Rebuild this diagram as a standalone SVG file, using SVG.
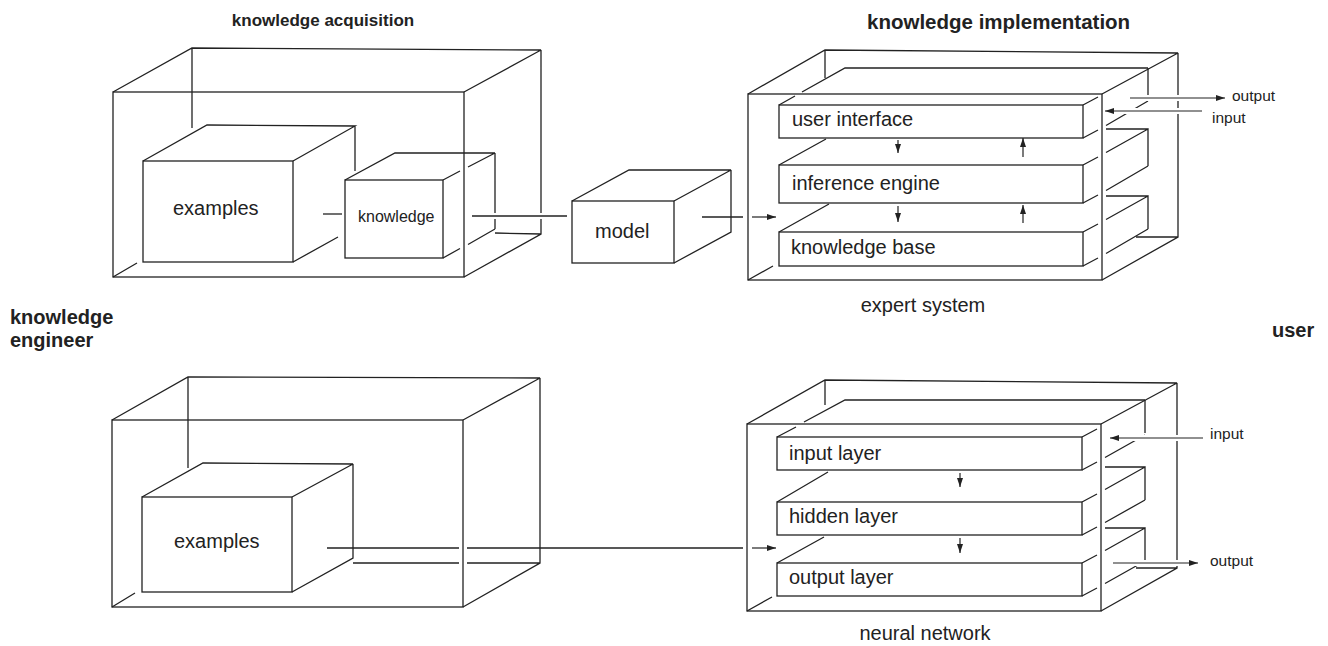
<svg xmlns="http://www.w3.org/2000/svg" width="1328" height="646" viewBox="0 0 1328 646">
<defs>
<style>
.ln{fill:none;stroke:#222;stroke-width:1.3;stroke-linecap:butt}
.fc{fill:none;stroke:#222;stroke-width:1.3}
.halo{fill:none;stroke:#fff;stroke-width:6}
.ar{fill:none;stroke:#222;stroke-width:1.2;marker-end:url(#ah)}
.t{font-family:"Liberation Sans",Arial,sans-serif;fill:#222;font-size:20px}
.b{font-family:"Liberation Sans",Arial,sans-serif;fill:#222;font-weight:bold;font-size:20px}
.s{font-family:"Liberation Sans",Arial,sans-serif;fill:#222;font-size:15.5px}
</style>
<marker id="ah" viewBox="0 0 10 10" refX="10" refY="5" markerWidth="9" markerHeight="6" markerUnits="userSpaceOnUse" orient="auto" preserveAspectRatio="none"><path d="M0,0 L10,5 L0,10 z" fill="#222"/></marker>
</defs>
<rect width="1328" height="646" fill="#fff"/>

<g id="labels">
<text class="b" x="323" y="26" text-anchor="middle" style="font-size:17px">knowledge acquisition</text>
<text class="b" x="867" y="29" style="font-size:20.5px">knowledge implementation</text>
<text class="b" x="10" y="324">knowledge</text>
<text class="b" x="10" y="347">engineer</text>
<text class="b" x="1272" y="337">user</text>
<text class="t" x="923" y="312" text-anchor="middle">expert system</text>
<text class="t" x="925" y="640" text-anchor="middle">neural network</text>
</g>

<g id="acquisition-top">
<rect class="fc" x="113" y="92" width="351" height="185"/>
<path class="ln" d="M113,92L192,48L541,50L464,92M541,50V234L464,277M192,48V128M495,233L541,234M113,277L137,263"/>
</g>

<g id="examples-top">
<rect class="fc" x="143" y="161" width="150" height="101"/>
<path class="ln" d="M143,161L207,125L355,126L293,161M355,126V171M293,262L338,237"/>
<text class="t" x="173" y="215">examples</text>
</g>

<g id="knowledge">
<rect class="fc" x="345" y="180" width="98" height="78"/>
<path class="ln" d="M345,180L395,153H495M443,180L460,171M468,167L495,153M495,153V229M443,258L460,248.5M468,244.5L495,229"/>
<text class="t" x="358" y="222" style="font-size:16px">knowledge</text>
</g>

<g id="model">
<rect class="fc" x="572" y="201" width="102" height="62"/>
<path class="ln" d="M572,201L629,170H731L674,201M731,170V232L674,263"/>
<text class="t" x="595" y="238">model</text>
</g>

<g id="expert-system">
<rect class="fc" x="748" y="94" width="354" height="186"/>
<path class="ln" d="M748,94L825,50L1178,53L1102,94M1178,53V237L1102,280M825,50V78M748,280L773,266M1136,237H1178"/>
</g>

<g id="user-interface">
<rect class="fc" x="779" y="105" width="304" height="33"/>
<path class="ln" d="M779,105L795,96M802,92L845,68H1148M1083,105L1098,97M1148,68V101M1083,138L1098,130M1106,125.5L1148,101"/>
<text class="t" x="792" y="126">user interface</text>
</g>

<g id="inference-engine">
<rect class="fc" x="779" y="165" width="304" height="38"/>
<path class="ln" d="M779,165L826,139M1106,129H1148M1083,165L1098,157M1106,152.5L1148,129V166M1083,203L1098,195M1106,190.5L1148,166"/>
<text class="t" x="792" y="190">inference engine</text>
</g>

<g id="knowledge-base">
<rect class="fc" x="779" y="232" width="304" height="34"/>
<path class="ln" d="M779,232L829,204M1106,196H1148M1083,232L1098,224M1106,219.5L1148,196V229M1083,266L1098,258M1106,253.5L1148,229"/>
<text class="t" x="791" y="254">knowledge base</text>
</g>

<g id="acquisition-bottom">
<rect class="fc" x="112" y="420" width="351" height="187"/>
<path class="ln" d="M112,420L188,377L540,378L463,420M540,378V563L463,607M188,377V468M112,607L135,593M353,563H459M467,563H540"/>
</g>

<g id="examples-bottom">
<rect class="fc" x="142" y="497" width="150" height="95"/>
<path class="ln" d="M142,497L203,463L353,464L292,497M353,464V558L292,592"/>
<text class="t" x="174" y="548">examples</text>
</g>

<g id="neural-network">
<rect class="fc" x="747" y="424" width="354" height="187"/>
<path class="ln" d="M747,424L825,380L1177,383L1101,424M1177,383V568L1101,611M825,380V405M747,611L772,597M1136,568H1177"/>
</g>

<g id="input-layer">
<rect class="fc" x="777" y="437" width="305" height="33"/>
<path class="ln" d="M777,437L796,427M804,422L845,400H1145M1082,437L1097,429M1145,400V433M1082,470L1097,462M1105,457.5L1145,435"/>
<text class="t" x="789" y="460">input layer</text>
</g>

<g id="hidden-layer">
<rect class="fc" x="777" y="502" width="305" height="33"/>
<path class="ln" d="M777,502L828,472M1105,467H1145M1082,502L1097,494M1105,489.5L1145,467V500M1082,535L1097,527M1105,522.5L1145,500"/>
<text class="t" x="789" y="523">hidden layer</text>
</g>

<g id="output-layer">
<rect class="fc" x="777" y="563" width="305" height="33"/>
<path class="ln" d="M777,563L824,537M1105,528H1145M1082,563L1097,555M1105,550.5L1145,528V560M1082,596L1097,588M1105,583.5L1145,561"/>
<text class="t" x="789" y="584">output layer</text>
</g>

<g id="connectors">
<path class="ln" d="M323,214H342"/>
<path class="halo" d="M478,216H563"/>
<path class="ln" d="M472,216H567"/>
<path class="ln" d="M702,217H743"/>
<path class="ar" d="M752,217H776"/>
<path class="ar" d="M898,140V153"/>
<path class="ar" d="M1023,157V138"/>
<path class="ar" d="M898,206V222"/>
<path class="ar" d="M1023,223V205"/>
<path class="halo" d="M1134,98H1215"/>
<path class="ar" d="M1130,98H1225"/>
<path class="halo" d="M1198,111H1115"/>
<path class="ar" d="M1202,111H1105"/>
<path class="ln" d="M327,548H459M467,548H743"/>
<path class="ar" d="M752,548H776"/>
<path class="ar" d="M960,473V487"/>
<path class="ar" d="M960,538V553"/>
<path class="halo" d="M1199,438H1120"/>
<path class="ar" d="M1203,438H1110"/>
<path class="halo" d="M1117,563H1188"/>
<path class="ar" d="M1113,563H1198"/>
</g>

<g id="io-labels">
<text class="s" x="1232" y="101">output</text>
<text class="s" x="1212" y="123">input</text>
<text class="s" x="1210" y="439">input</text>
<text class="s" x="1210" y="566">output</text>
</g>
</svg>
